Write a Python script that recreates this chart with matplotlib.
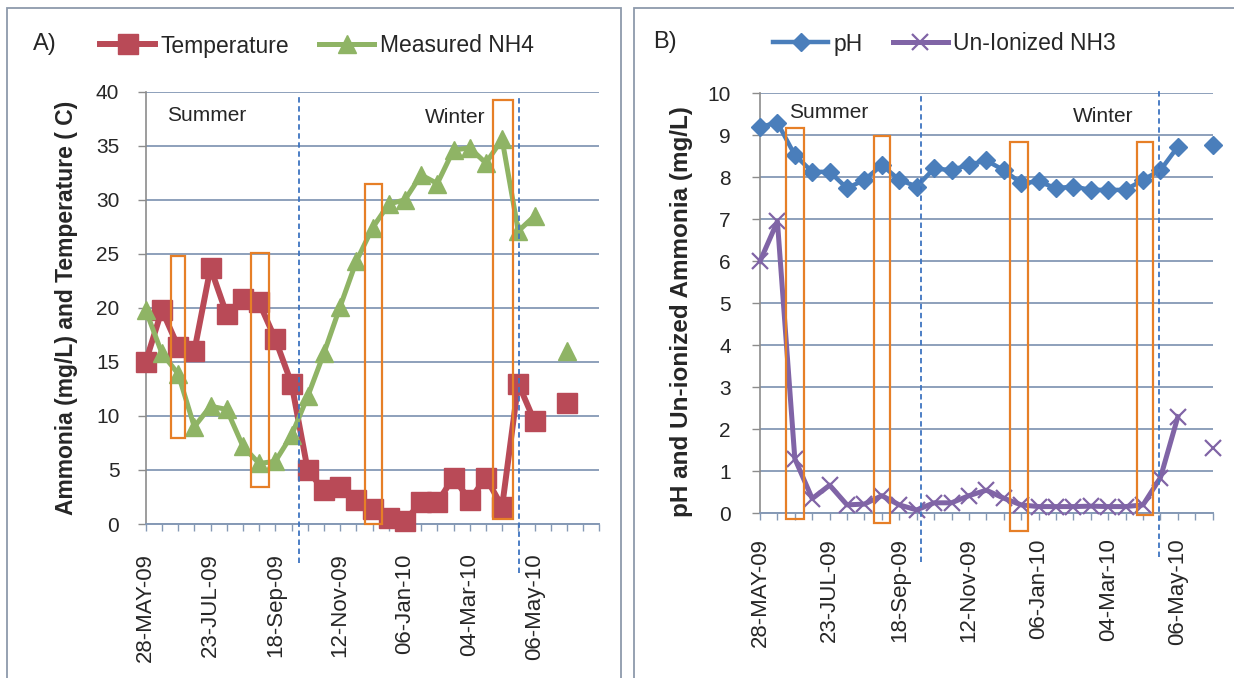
import numpy as np
import matplotlib
matplotlib.use("Agg")
import matplotlib.pyplot as plt
import matplotlib.transforms as mtransforms
from matplotlib.patches import Rectangle

plt.rcParams['font.family'] = ['Liberation Sans', 'DejaVu Sans']

# ---- data -------------------------------------------------------------
date_labels = ["28-MAY-09", "23-JUL-09", "18-Sep-09", "12-Nov-09",
               "06-Jan-10", "04-Mar-10", "06-May-10"]
label_step = 4

# Panel A: sampling events 0..28
temperature = [15.0, 19.8, 16.4, 16.0, 23.7, 19.4, 20.8, 20.5, 17.1, 13.0,
               5.0, 3.1, 3.4, 2.2, 1.4, 0.6, 0.3, 2.0, 2.0, 4.3,
               2.2, 4.3, 1.6, 13.0, 9.5, None, 11.2, None, None]
nh4_measured = [19.8, 15.8, 13.9, 9.0, 10.9, 10.6, 7.2, 5.6, 5.8, 8.2,
                11.8, 15.8, 20.1, 24.3, 27.4, 29.6, 30.0, 32.3, 31.5, 34.6,
                34.8, 33.4, 35.6, 27.1, 28.5, None, 16.0, None, None]

# Panel B: sampling events 0..26
ph = [9.2, 9.3, 8.53, 8.13, 8.13, 7.74, 7.94, 8.29, 7.94, 7.78,
      8.21, 8.17, 8.3, 8.4, 8.17, 7.86, 7.9, 7.74, 7.78, 7.70,
      7.70, 7.70, 7.94, 8.17, 8.73, None, 8.77]
nh3_unionized = [6.0, 6.95, 1.3, 0.35, 0.67, 0.2, 0.22, 0.42, 0.2, 0.08,
                 0.25, 0.25, 0.42, 0.55, 0.36, 0.2, 0.16, 0.16, 0.16, 0.17,
                 0.16, 0.16, 0.2, 0.85, 2.3, None, 1.55]

# season boundaries (event index) and highlighted sampling windows
season_breaks_a = [9.48, 23.05]
season_breaks_b = [9.25, 22.9]
windows_a = [(1.54, 2.43, 8.0, 24.8), (6.48, 7.63, 3.4, 25.1),
             (13.54, 14.6, 0.0, 31.5), (21.42, 22.69, 0.5, 39.2)]
windows_b = [(1.49, 2.53, -0.14, 9.18), (6.55, 7.47, -0.24, 8.98),
             (14.36, 15.41, -0.41, 8.85), (21.64, 22.59, -0.04, 8.85)]


def arr(v):
    return np.array([np.nan if x is None else x for x in v], dtype=float)


# ---- style ------------------------------------------------------------
C_TEMP = "#B94A57"
C_NH4 = "#8FB465"
C_PH = "#4A7EBB"
C_NH3 = "#8064A6"
C_BOX = "#E67F27"
C_SEASON = "#3E74C0"
C_GRID = "#8599B5"
C_AXIS = "#8C8C8C"
C_FRAME = "#8E9AAB"
TXT = "#262626"

W, H = 1234, 678
fig = plt.figure(figsize=(W / 100, H / 100), dpi=100)
fig.patch.set_facecolor("white")

ax_a = fig.add_axes([145.7 / W, 1 - 524.0 / H, 453.6 / W, 432.3 / H])
ax_b = fig.add_axes([760.0 / W, 1 - 513.3 / H, 452.7 / W, 420.0 / H])


def style_axes(ax, n_events, ymax, ystep, xpad, ypad):
    ax.set_xlim(0, n_events - 1)
    ax.set_ylim(0, ymax)
    ax.set_yticks(np.arange(0, ymax + 0.001, ystep))
    ticks = np.arange(n_events)
    labels = [""] * n_events
    for i, lab in enumerate(date_labels):
        if i * label_step < n_events:
            labels[i * label_step] = lab
    ax.set_xticks(ticks)
    ax.set_xticklabels(labels, rotation=90, fontsize=16, color=TXT)
    ax.tick_params(axis="x", length=5, width=1.0, color=C_GRID, pad=xpad)
    ax.tick_params(axis="y", length=6, width=1.0, color=C_AXIS, pad=ypad,
                   labelsize=15, labelcolor=TXT)
    for s in ("top", "right"):
        ax.spines[s].set_visible(False)
    ax.spines["left"].set_color(C_AXIS)
    ax.spines["left"].set_linewidth(1.2)
    ax.spines["bottom"].set_color(C_GRID)
    ax.spines["bottom"].set_linewidth(1.4)
    ax.yaxis.grid(True, color=C_GRID, linewidth=1.3)
    ax.set_axisbelow(True)


style_axes(ax_a, len(temperature), 40, 5, xpad=16, ypad=13)
style_axes(ax_b, len(ph), 10, 1, xpad=13, ypad=15)

# ---- panel A ----------------------------------------------------------
xa = np.arange(len(temperature))
l_temp, = ax_a.plot(xa, arr(temperature), color=C_TEMP, lw=4.3, marker="s",
                    ms=14, mec=C_TEMP, mfc=C_TEMP, clip_on=False, zorder=3,
                    label="Temperature")
l_nh4, = ax_a.plot(xa, arr(nh4_measured), color=C_NH4, lw=3.6, marker="^",
                   ms=13, mec=C_NH4, mfc=C_NH4, clip_on=False, zorder=4,
                   label="Measured NH4")

# ---- panel B ----------------------------------------------------------
xb = np.arange(len(ph))
l_ph, = ax_b.plot(xb, arr(ph), color=C_PH, lw=3.2, marker="D", ms=9,
                  mec=C_PH, mfc=C_PH, clip_on=False, zorder=3, label="pH")
l_nh3, = ax_b.plot(xb, arr(nh3_unionized), color=C_NH3, lw=3.6, marker="x",
                   ms=12, mew=1.6, mec=C_NH3, clip_on=False, zorder=4,
                   label="Un-Ionized NH3")

# season separators and highlighted windows
def season_lines(ax, breaks, spans):
    tr = mtransforms.blended_transform_factory(ax.transData, ax.transAxes)
    for xb_, (y0, y1) in zip(breaks, spans):
        ax.plot([xb_, xb_], [y0, y1], transform=tr, clip_on=False,
                color=C_SEASON, lw=1.3, ls=(0, (3, 2)), zorder=5)


season_lines(ax_a, season_breaks_a, [(-0.09, 0.988), (-0.113, 0.992)])
season_lines(ax_b, season_breaks_b, [(-0.115, 1.0), (-0.103, 1.013)])

for ax, wins in ((ax_a, windows_a), (ax_b, windows_b)):
    for x0, x1, y0, y1 in wins:
        ax.add_patch(Rectangle((x0, y0), x1 - x0, y1 - y0, fill=False,
                               ec=C_BOX, lw=1.6, clip_on=False, zorder=6))

ax_a.text(1.3, 37.8, "Summer", fontsize=15, color=TXT, va="center", ha="left")
ax_a.text(17.24, 37.65, "Winter", fontsize=15, color=TXT, va="center", ha="left")
ax_b.text(1.68, 9.55, "Summer", fontsize=15, color=TXT, va="center", ha="left")
ax_b.text(17.96, 9.44, "Winter", fontsize=15, color=TXT, va="center", ha="left")

ax_a.set_ylabel("Ammonia (mg/L) and Temperature ( C)", fontsize=16.5,
                fontweight="bold", color=TXT)
ax_a.yaxis.set_label_coords(-0.149, 0.5)
ax_b.set_ylabel("pH and Un-ionized Ammonia (mg/L)", fontsize=17.5,
                fontweight="bold", color=TXT)
ax_b.yaxis.set_label_coords(-0.148, 0.48)

# ---- legends and panel tags --------------------------------------------
leg_kw = dict(loc="center left", ncol=2, frameon=False, borderpad=0,
              borderaxespad=0, handlelength=2.4, handletextpad=0.25,
              columnspacing=1.3, fontsize=16.5, labelcolor=TXT)
fig.legend(handles=[l_temp, l_nh4], bbox_to_anchor=(100 / W, 1 - 46 / H),
           **leg_kw)
fig.legend(handles=[l_ph, l_nh3], bbox_to_anchor=(773 / W, 1 - 44 / H),
           **leg_kw)
fig.text(33 / W, 1 - 44 / H, "A)", fontsize=17, color=TXT, va="center")
fig.text(653 / W, 1 - 42 / H, "B)", fontsize=17, color=TXT, va="center")

# panel frames
fig.add_artist(Rectangle((7 / W, -0.05), (621 - 7) / W, 1.05 - 8 / H,
                         transform=fig.transFigure, fill=False, ec=C_FRAME,
                         lw=1.3))
fig.add_artist(Rectangle((634 / W, -0.05), 1.1 - 634 / W, 1.05 - 8 / H,
                         transform=fig.transFigure, fill=False, ec=C_FRAME,
                         lw=1.3))

fig.savefig("out.png", dpi=100)
